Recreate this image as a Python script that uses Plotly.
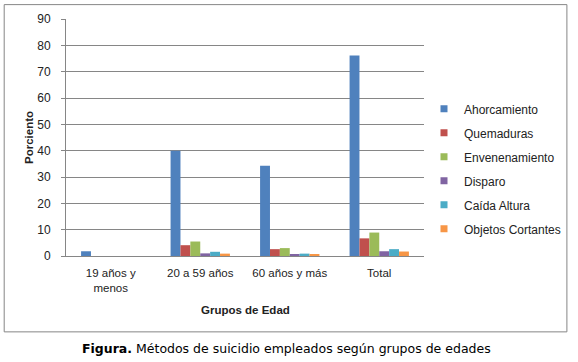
import plotly.graph_objects as go

categories = ["19 años y<br>menos", "20 a 59 años", "60 años y más", "Total"]
series_names = ["Ahorcamiento", "Quemaduras", "Envenenamiento", "Disparo", "Caída Altura", "Objetos Cortantes"]
ahorcamiento = [1.8, 40.0, 34.3, 76.1]
quemaduras = [0, 4.1, 2.6, 6.7]
envenenamiento = [0, 5.5, 3.0, 8.9]
disparo = [0, 1.0, 0.4, 1.8]
caida_altura = [0, 1.6, 0.9, 2.6]
objetos_cortantes = [0, 0.9, 0.7, 1.7]
colors = ["#4F81BD", "#C0504D", "#9BBB59", "#8064A2", "#4BACC6", "#F79646"]
y_ticks = [0, 10, 20, 30, 40, 50, 60, 70, 80, 90]

series = [ahorcamiento, quemaduras, envenenamiento, disparo, caida_altura, objetos_cortantes]

fig = go.Figure()
for name, vals, col in zip(series_names, series, colors):
    fig.add_trace(go.Bar(x=categories, y=vals, name=name, marker=dict(color=col, line=dict(width=0)),
                         showlegend=False))
for i, (name, col) in enumerate(zip(series_names, colors)):
    fig.add_trace(go.Scatter(x=[None], y=[None], mode="markers", name=name, legendgroup=f"g{i}",
                             marker=dict(symbol="square", size=7, color=col)))

W, H = 578, 362
L, R, T, B = 66, 150, 17, 106
pw, ph = W - L - R, H - T - B

def px_x(x):
    return (x - L) / pw

def px_y(y):
    return (H - B - y) / ph

font = "Liberation Sans"
fs = 11.5
fig.update_layout(
    width=W, height=H,
    margin=dict(l=L, r=R, t=T, b=B, pad=0),
    paper_bgcolor="white", plot_bgcolor="white",
    barmode="group", bargap=0.337, bargroupgap=0,
    font=dict(family=font, size=fs, color="#222222"),
    legend=dict(x=px_x(428), y=px_y(93), xanchor="left", yanchor="top",
                font=dict(family=font, size=12, color="#222222"),
                tracegroupgap=5, traceorder="grouped", bgcolor="rgba(0,0,0,0)"),
    xaxis=dict(showline=True, linecolor="#868686", linewidth=1, ticks="", showgrid=False,
               ticklabelstandoff=6,
               tickfont=dict(family=font, size=fs, color="#222222")),
    yaxis=dict(range=[0, 90], tickvals=y_ticks, showgrid=True, gridcolor="#868686", gridwidth=1,
               showline=True, linecolor="#868686", linewidth=1, ticks="outside", ticklen=4,
               tickcolor="#868686", zeroline=False, ticklabelstandoff=8,
               tickfont=dict(family=font, size=12, color="#222222"),
               title=dict(text="<b>Porciento</b>", font=dict(family=font, size=fs), standoff=1)),
    shapes=[dict(type="rect", xref="paper", yref="paper",
                 x0=px_x(3.5), x1=px_x(572.5), y0=px_y(332.5), y1=px_y(2.5),
                 line=dict(color="#868686", width=1), fillcolor="rgba(0,0,0,0)", layer="below")],
    annotations=[
        dict(text="<b>Grupos de Edad</b>", xref="paper", yref="paper", x=px_x(247), y=px_y(310),
             xanchor="center", yanchor="middle", showarrow=False, font=dict(family=font, size=fs)),
        dict(text="<b>Figura.</b> Métodos de suicidio empleados según grupos de edades", xref="paper", yref="paper",
             x=px_x(289), y=px_y(349), xanchor="center", yanchor="middle", showarrow=False,
             font=dict(family="DejaVu Sans", size=12.5, color="#000000")),
    ],
)

fig.write_html("out.html", config={"displayModeBar": False},
               post_script="document.body.style.margin='0px';document.body.style.overflow='hidden';")
